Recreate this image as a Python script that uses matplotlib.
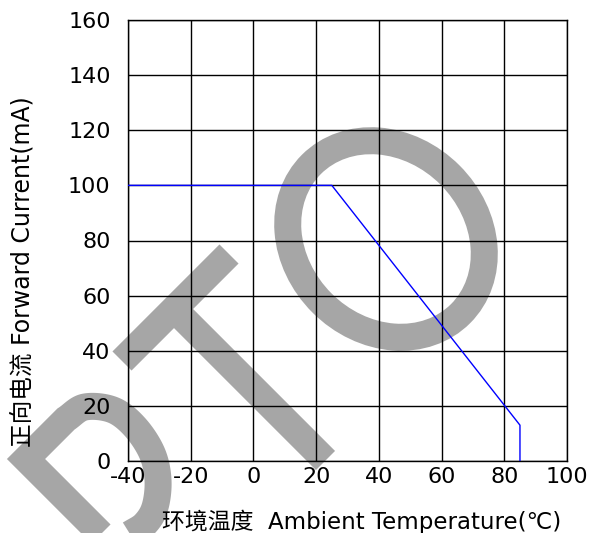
import numpy as np
import matplotlib
matplotlib.use("Agg")
import matplotlib.pyplot as plt
from matplotlib.patches import Ellipse, PathPatch
from matplotlib.path import Path

plt.rcParams["axes.unicode_minus"] = False

# ---- data ----
temps = [-40, 25, 85, 85]          # Ambient temperature (°C)
currents = [100, 100, 13, 0]       # Forward current (mA)
xticks = [-40, -20, 0, 20, 40, 60, 80, 100]
yticks = [0, 20, 40, 60, 80, 100, 120, 140, 160]
xlabel = "环境温度  Ambient Temperature(℃)"
ylabel = "正向电流 Forward Current(mA)"

W, H = 597, 533
DPI = 100
fig = plt.figure(figsize=(W / DPI, H / DPI), dpi=DPI, facecolor="white")

# ---- watermark overlay (pixel coordinates) ----
ov = fig.add_axes([0, 0, 1, 1], zorder=0)
ov.set_xlim(0, W)
ov.set_ylim(H, 0)
ov.axis("off")
gray = "#a6a6a6"
stroke = 27 * 72 / DPI


def catmull(pts, n=20):
    pts = np.asarray(pts, float)
    P = np.vstack([2 * pts[0] - pts[1], pts, 2 * pts[-1] - pts[-2]])
    out = []
    t = np.linspace(0, 1, n, endpoint=False)[:, None]
    for i in range(1, len(P) - 2):
        p0, p1, p2, p3 = P[i - 1], P[i], P[i + 1], P[i + 2]
        out.append(0.5 * ((2 * p1) + (-p0 + p2) * t + (2 * p0 - 5 * p1 + 4 * p2 - p3) * t ** 2
                          + (-p0 + 3 * p1 - 3 * p2 + p3) * t ** 3))
    out.append(pts[-1:])
    return np.vstack(out)


# D (closed outline stroke)
bowl = catmull([(66, 419), (85, 407), (113, 410), (135, 427), (152, 453),
                (158, 480), (155, 507), (145, 524), (130, 534), (112, 545)])
dverts = np.vstack([[(112, 545), (26, 459)], bowl, [(112, 545)]])
dcodes = [Path.MOVETO] + [Path.LINETO] * (len(dverts) - 2) + [Path.CLOSEPOLY]
ov.add_patch(PathPatch(Path(dverts, dcodes), fill=False, ec=gray, lw=stroke,
                       joinstyle="miter", capstyle="butt"))
# T
ov.plot([122, 229], [361, 254], color=gray, lw=stroke, solid_capstyle="butt")
ov.plot([174, 325.5], [309, 460.5], color=gray, lw=stroke, solid_capstyle="butt")
# O
ov.add_patch(Ellipse((386, 239), width=2 * (119 - 13.5), height=2 * (104 - 13.5),
                     angle=45, fill=False, ec=gray, lw=stroke))

# ---- main chart ----
L, R, T, B = 128, 567, 20, 461
ax = fig.add_axes([L / W, 1 - B / H, (R - L) / W, (B - T) / H], zorder=1)
ax.set_facecolor("none")
ax.plot(temps, currents, color="#0000ff", lw=1.0, zorder=3)
ax.set_xlim(-40, 100)
ax.set_ylim(0, 160)
ax.set_xticks(xticks)
ax.set_yticks(yticks)
ax.grid(True, color="black", lw=1.0)
for s in ax.spines.values():
    s.set_color("black")
    s.set_linewidth(1.0)
fam = ["DejaVu Sans", "Noto Sans CJK SC"]
ax.tick_params(axis="both", length=0, labelsize=16, colors="black")
ax.tick_params(axis="x", pad=4)
ax.tick_params(axis="y", pad=12.5)
for lab in ax.get_xticklabels() + ax.get_yticklabels():
    lab.set_family(fam)

fig.text(361.5 / W, 1 - 522 / H, xlabel, ha="center", va="center", fontsize=16.5,
         family=fam)
fig.text(24 / W, 1 - 271.5 / H, ylabel, ha="center", va="center", rotation=90,
         fontsize=17, family=fam)

fig.savefig("out.png", dpi=DPI)
